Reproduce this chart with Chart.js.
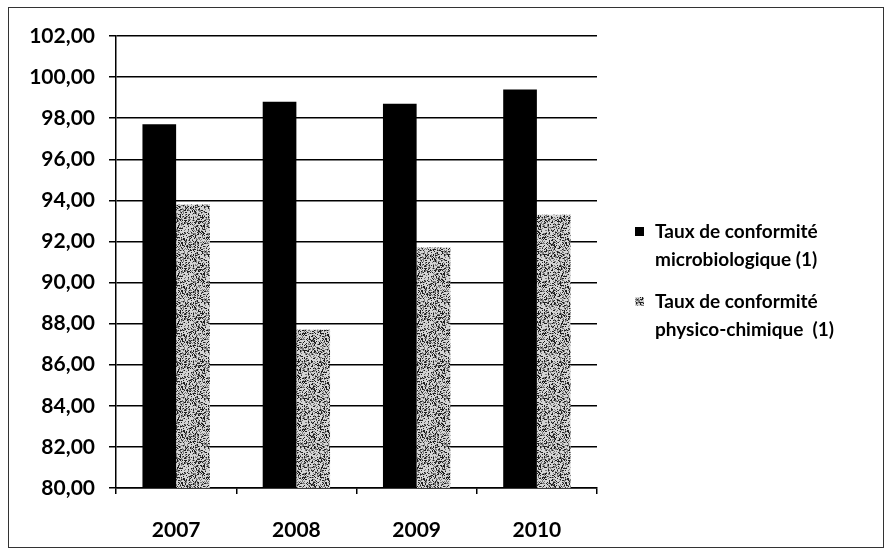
<!DOCTYPE html>
<html>
<head>
<meta charset="utf-8">
<script src="https://cdn.jsdelivr.net/npm/chart.js@4/dist/chart.umd.min.js"></script>
<style>
  html, body { margin: 0; padding: 0; background: #fff; }
  #wrap { width: 885px; height: 551px; position: relative; }
</style>
</head>
<body>
<div id="wrap"><canvas id="chart"></canvas></div>
<script>
// values
const years = ['2007', '2008', '2009', '2010'];
const microLabel = ['Taux de conformité', 'microbiologique (1)'];
const physicoLabel = ['Taux de conformité', 'physico-chimique  (1)'];
const microValues = [97.7, 98.8, 98.7, 99.4];
const physicoValues = [93.8, 87.7, 91.7, 93.3];

const FONT = 'Lato, "Open Sans", sans-serif';

// stippled grey fill like the scan (fixed hash, only a texture)
function makeStipple() {
  const size = 48;
  const c = document.createElement('canvas');
  c.width = size; c.height = size;
  const g = c.getContext('2d');
  g.fillStyle = '#d4d4d4';
  g.fillRect(0, 0, size, size);
  for (let y = 0; y < size; y++) {
    for (let x = 0; x < size; x++) {
      let h = Math.imul(x * 374761393 + y * 668265263, 1274126177);
      h = (h ^ (h >>> 13)) >>> 0;
      const r = (h % 1000) / 1000;
      if (r < 0.22) {
        g.fillStyle = '#1e1e1e';
        g.fillRect(x, y, 1, 1);
      } else if (r < 0.45) {
        g.fillStyle = '#7a7a7a';
        g.fillRect(x, y, 1, 1);
      }
    }
  }
  return g.createPattern(c, 'repeat');
}
const stipple = makeStipple();

const frame = {
  id: 'frame',
  afterDraw(chart) {
    const ctx = chart.ctx;
    ctx.save();
    ctx.strokeStyle = '#333';
    ctx.lineWidth = 1;
    ctx.strokeRect(8.5, 7.5, 875, 540);

    // legend on the right, two-line entries
    const items = [
      { lines: microLabel, fill: '#000', y: 232 },
      { lines: physicoLabel, fill: stipple, y: 302 }
    ];
    ctx.font = 'bold 19px ' + FONT;
    ctx.textBaseline = 'middle';
    items.forEach(function (it) {
      ctx.fillStyle = it.fill;
      ctx.fillRect(635, it.y - 5, 9, 9);
      ctx.fillStyle = '#000';
      it.lines.forEach(function (line, i) {
        ctx.fillText(line, 655, it.y + i * 28);
      });
    });
    ctx.restore();
  }
};

new Chart(document.getElementById('chart'), {
  type: 'bar',
  data: {
    labels: years,
    datasets: [
      {
        label: microLabel.join(' '),
        data: microValues,
        backgroundColor: '#000',
        categoryPercentage: 0.56,
        barPercentage: 1.0
      },
      {
        label: physicoLabel.join(' '),
        data: physicoValues,
        backgroundColor: stipple,
        categoryPercentage: 0.56,
        barPercentage: 1.0
      }
    ]
  },
  options: {
    responsive: true,
    maintainAspectRatio: false,
    animation: false,
    layout: { padding: { top: 36, right: 288, left: 0, bottom: 0 } },
    plugins: {
      legend: { display: false },
      tooltip: { enabled: false }
    },
    scales: {
      x: {
        offset: true,
        grid: {
          offset: true,
          drawOnChartArea: false,
          color: '#000',
          tickLength: 6,
          lineWidth: 1.5
        },
        border: { color: '#000', width: 1.5 },
        ticks: {
          color: '#000',
          padding: 24,
          font: { family: FONT, size: 21, weight: 'bold' }
        },
        afterFit(scale) { scale.height = 63; }
      },
      y: {
        min: 80,
        max: 102,
        grid: {
          color: '#000',
          lineWidth: 1.5,
          tickLength: 7
        },
        border: { color: '#000', width: 1.5 },
        ticks: {
          stepSize: 2,
          color: '#000',
          padding: 14,
          font: { family: FONT, size: 21, weight: 'bold' },
          callback: function (v) { return v.toFixed(2).replace('.', ','); }
        },
        afterFit(scale) { scale.width = 116; }
      }
    }
  },
  plugins: [frame]
});
</script>
</body>
</html>
